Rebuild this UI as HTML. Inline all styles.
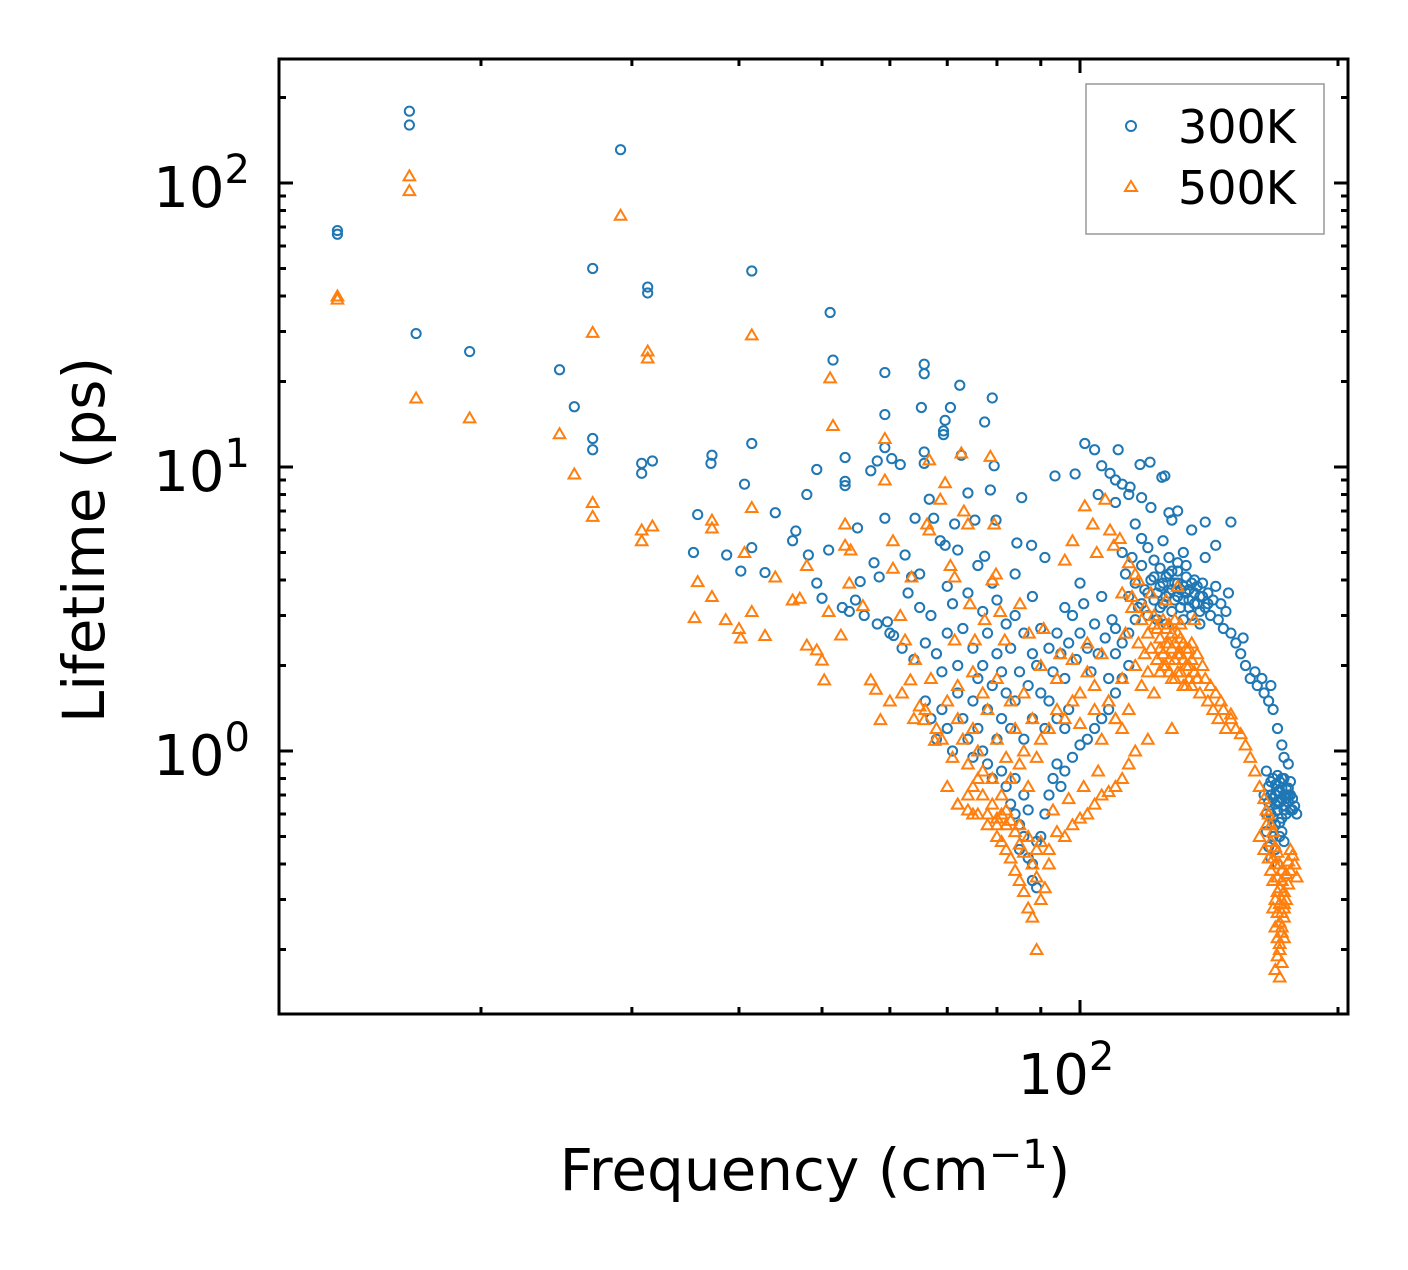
<!DOCTYPE html>
<html><head><meta charset="utf-8"><style>
body{margin:0;background:#fff}
svg text{font-family:"DejaVu Sans","Liberation Sans",sans-serif;fill:#000}
</style></head><body>
<svg id="chart" width="1408" height="1265" viewBox="0 0 1408 1265" xmlns="http://www.w3.org/2000/svg">
<rect x="0" y="0" width="1408" height="1265" fill="#fff"/>
<g id="marks"></g>
<g id="ticks"></g>
<rect x="279" y="59" width="1069" height="955" fill="none" stroke="#000" stroke-width="3"/>
<text x="250" y="207" font-size="56" text-anchor="end">10<tspan dy="-24" font-size="40">2</tspan></text>
<text x="250" y="491" font-size="56" text-anchor="end">10<tspan dy="-24" font-size="40">1</tspan></text>
<text x="250" y="775" font-size="56" text-anchor="end">10<tspan dy="-24" font-size="40">0</tspan></text>
<text x="1066" y="1094" font-size="56" text-anchor="middle">10<tspan dy="-24" font-size="40">2</tspan></text>
<text x="815" y="1190" font-size="58" text-anchor="middle">Frequency (cm<tspan dy="-22" font-size="40">−1</tspan><tspan dy="22">)</tspan></text>
<text transform="translate(104,540) rotate(-90)" font-size="58" text-anchor="middle">Lifetime (ps)</text>
<g>
<rect x="1086" y="84" width="238" height="150" fill="#fff" stroke="#999" stroke-width="1.5"/>
<circle cx="1131" cy="126" r="5" fill="none" stroke="#1f77b4" stroke-width="2"/>
<text x="1178" y="143" font-size="46">300K</text>
<path d="M1131,181 L1137,191 L1125,191 Z" fill="none" stroke="#ff7f0e" stroke-width="2"/>
<text x="1178" y="204" font-size="46">500K</text>
</g>
</svg>
<script>
// [frequency (cm^-1), lifetime (ps)] pairs, grouped by region
const blueSparse = [[13.6,68],[13.6,66],[16.5,179],[16.5,160],[16.8,29.5],[19.4,25.5],[24.7,22],[25.7,16.3],[27,50],[27,12.6],
[27,11.5],[29.1,131],[31.3,43],[31.3,41],[30.8,9.5],[30.8,10.3],[31.7,10.5],[41.4,49],[51.1,35],[51.5,23.8],
[35.8,6.8],[37.2,11],[37.1,10.3],[41.4,12.1],[40.6,8.7],[41.4,5.2],[35.4,5.0],[38.7,4.9],[40.2,4.3],[42.9,4.25],
[44.1,6.9],[46.2,5.5],[46.6,5.95],[48,8.0],[49.3,9.8],[48.2,4.9],[49.3,3.9],[50,3.45],[50.9,5.1],[53.2,10.8],
[53.2,8.9],[53.2,8.6],[55,6.1],[55.4,3.95],[54.7,3.4],[52.8,3.2],[53.8,3.1],[57.5,4.6],[58.3,4.1],[59.2,21.5],
[59.2,15.3],[59.2,11.7],[59.2,6.6],[60.3,10.7],[61.7,10.2],[58,10.5],[57,9.7],[59.6,2.85],[60.6,2.55],[62.5,4.9],
[63.6,4.1],[64.2,6.6],[65,4.2],[65.3,16.2],[65.8,23],[65.8,21.3],[65.8,11.3],[65.8,10.3],[66.7,7.7],[67.5,6.6],
[68.7,5.5],[69.6,5.3],[69.3,13.4],[69.3,13],[69.6,14.6],[70.6,16.2],[72.4,19.4],[72.7,11],[74,8.1],[71.4,6.3],
[72,5.1],[75.4,6.5],[77.4,14.4],[79,17.5],[79.4,10.1],[79.8,6.5],[78.6,8.3],[77.4,4.85],[84.4,5.4],[85.5,7.8],
[87.8,5.3],[91,4.8],[93.5,9.3],[98.7,9.45],[101.3,12.1],[104,11.5],[106,10.1],[110.8,11.5],[108.4,9.5],[110,9.0],
[114.4,8.5],[117.5,10.2],[120.7,10.4],[124.6,9.2],[125.6,9.3],[140,6.4],[127,6.9],[105,8.0],[112,8.7],[118,7.8]];
const blueCloud = [[56,3.0],[58,2.8],[60,2.6],[62,2.3],[64,2.1],[66,2.4],[67,3.0],[68,2.2],[69,1.9],[70,2.6],
[71,3.3],[72,2.0],[72,1.6],[73,2.7],[74,3.6],[75,2.3],[75,1.5],[76,1.8],[77,3.1],[77,2.0],
[78,1.4],[78,2.6],[79,1.7],[80,3.4],[80,2.2],[81,1.3],[81,1.9],[82,2.8],[82,1.6],[83,1.2],
[83,2.3],[84,3.0],[84,1.5],[85,1.9],[86,1.1],[86,2.6],[87,1.7],[88,2.2],[88,1.3],[89,2.0],
[90,1.6],[90,2.7],[91,1.2],[92,2.3],[93,1.9],[94,2.6],[95,2.2],[96,1.8],[97,2.4],[98,3.0],
[99,2.1],[100,2.6],[101,3.3],[102,2.3],[103,1.9],[104,2.8],[105,2.2],[106,3.5],[107,2.5],[108,1.8],
[109,2.9],[110,2.2],[66,1.5],[67,1.3],[68,1.1],[69,1.4],[70,1.2],[71,1.0],[73,1.3],[74,1.1],
[75,0.95],[76,1.2],[77,1.0],[78,0.9],[79,0.8],[80,1.1],[81,0.85],[92,1.5],[94,1.3],[96,1.2],
[97,1.4],[63,3.6],[65,3.2],[70,3.8],[76,4.5],[79,3.9],[84,4.2],[88,3.5],[96,3.2],[100,3.9]];
const blueValley = [[82,0.75],[83,0.65],[84,0.6],[85,0.55],[85,0.45],[86,0.5],[87,0.42],[88,0.35],[89,0.33],[88,0.4],
[90,0.5],[91,0.6],[92,0.7],[93,0.8],[95,0.75],[96,0.85],[98,0.95],[100,1.05],[102,1.1],[104,1.2],
[106,1.3],[108,1.4],[110,1.6],[112,1.8],[114,2.0],[84,0.8],[86,0.7],[87,0.62],[89,0.48],[94,0.9]];
const blueCluster = [[112,5.0],[113,4.2],[114,3.5],[115,4.8],[116,3.9],[117,3.2],[118,4.5],[119,3.7],[120,5.2],[120,3.0],
[121,4.0],[122,3.4],[122,4.7],[123,2.9],[124,3.8],[124,4.4],[125,3.3],[126,4.1],[126,2.8],[127,3.6],
[128,4.3],[128,3.1],[129,3.9],[130,3.5],[130,4.6],[131,3.2],[132,3.8],[132,2.9],[133,4.1],[134,3.4],
[134,3.7],[135,3.0],[136,3.6],[136,4.0],[137,3.3],[138,3.5],[138,2.8],[139,3.9],[140,3.2],[141,3.6],
[142,3.0],[143,3.4],[144,3.8],[145,2.9],[146,3.3],[147,2.7],[148,3.1],[149,3.6],[150,2.6],[118,5.6],
[125,5.5],[132,5.0],[140,4.8],[116,6.3],[128,6.5],[110,7.5],[114,8.0],[121,7.2],[130,7.0],[135,6.0],
[144,5.3],[150,6.4],[123,3.6],[125,3.9],[127,4.2],[129,3.4],[131,3.7],[133,3.6],[135,3.9],[137,3.8],
[139,3.5],[141,3.3],[124,3.2],[126,3.5],[128,3.7],[130,3.9],[132,3.4],[134,3.2],[136,3.3],[138,3.1],
[127,4.8],[130,4.3],[133,4.5],[122,4.1],[120,3.6],[118,3.3],[116,2.9],[114,2.6],[112,2.4],[110,2.7]];
const blueTail = [[152,2.4],[154,2.2],[155,2.5],[156,2.0],[158,1.8],[160,1.9],[161,1.7],[163,1.8],[164,1.6],[166,1.5],
[167,1.7],[168,1.4],[170,1.2],[172,1.05],[173,0.95],[165,0.85],[166,0.75],[167,0.7],[167,0.6],[168,0.8],
[169,0.65],[169,0.55],[170,0.72],[170,0.62],[171,0.5],[171,0.78],[172,0.68],[172,0.58],[173,0.7],[173,0.64],
[174,0.74],[174,0.6],[175,0.66],[175,0.9],[176,0.7],[176,0.62],[177,0.68],[178,0.64],[179,0.6],[168,0.68],
[169,0.76],[170,0.82],[171,0.66],[172,0.74],[173,0.8],[174,0.68],[175,0.74],[176,0.78],[166,0.66],[167,0.78],
[168,0.58],[169,0.7],[170,0.66],[171,0.72],[172,0.8],[173,0.62],[174,0.7],[175,0.7],[165,0.52],[166,0.46],
[167,0.42],[168,0.5],[169,0.45],[170,0.4],[171,0.56],[172,0.52],[173,0.48],[165,0.6],[164,0.7],[177,0.62]];
const orangeSparse = [[13.6,40],[13.6,39],[16.5,106],[16.5,94],[16.8,17.5],[19.4,14.9],[24.7,13.1],[25.7,9.45],[27,29.8],[27,7.5],
[27,6.7],[29.1,77],[31.3,25.6],[31.3,24.2],[30.8,6.0],[30.8,5.5],[31.7,6.2],[41.4,29.2],[41.4,7.2],[51.1,20.6],
[51.5,14.0],[35.8,3.95],[37.2,3.5],[35.5,2.95],[37.2,6.5],[37.2,6.1],[40.6,5.0],[40,2.7],[38.6,2.9],[40.2,2.5],
[42.9,2.55],[41.4,3.1],[44.1,4.1],[46.2,3.4],[47.1,3.45],[48,4.5],[48,2.36],[49.3,2.27],[50,2.09],[50.3,1.78],
[50.9,3.1],[52.6,2.56],[53.2,6.3],[53.2,5.3],[54,5.1],[53.8,3.9],[55.8,3.25],[57,1.78],[57.8,1.65],[58.5,1.29],
[59.2,9.0],[59.2,12.6],[60.5,5.5],[60.5,4.4],[61.7,3.0],[62.5,2.46],[63.4,1.78],[64.2,2.1],[63.6,4.1],[65,1.44],
[65.8,1.29],[66.3,6.3],[66.7,6.0],[66.7,10.6],[68.7,7.7],[67.7,1.09],[69.6,8.8],[70.6,4.5],[71.4,4.1],[71.4,2.46],
[72.7,11.2],[73.2,7.0],[74,6.3],[74.4,3.3],[75.4,2.46],[77.4,2.9],[78.6,10.9],[79,4.0],[79.4,6.3],[79.8,4.2],
[80.7,3.1],[81.7,2.46],[85.1,3.3],[87.2,2.6],[90.7,2.7],[94.8,2.2],[101.3,7.3],[103.5,6.3],[104.6,5.0],[107,7.7],
[108.4,6.0],[109.5,5.3],[111.3,5.6],[114,4.6],[98,5.5],[96,4.7],[115,3.5],[117,4.0],[119,3.2],[121,3.6]];
const orangeCloud = [[60,1.5],[62,1.6],[64,1.3],[66,1.4],[67,1.8],[68,1.2],[69,1.1],[70,1.5],[71,0.95],[72,1.3],
[73,1.1],[74,0.9],[75,1.2],[76,1.0],[77,0.85],[78,1.4],[79,0.8],[80,1.1],[81,0.7],[82,0.95],
[83,0.8],[84,1.2],[85,0.9],[86,1.0],[87,0.75],[88,1.3],[89,0.95],[90,1.1],[92,1.2],[94,1.4],
[96,1.3],[98,1.5],[100,1.6],[102,1.9],[104,1.7],[70,0.75],[72,0.65],[74,0.7],[75,0.6],[76,0.8],
[78,0.6],[80,0.55],[82,0.62],[72,1.7],[75,1.9],[77,1.6],[80,1.8],[83,1.5],[86,1.6],[90,2.0],
[94,1.8],[98,2.1],[102,2.4],[106,2.2],[108,1.5],[110,1.3],[112,1.2],[106,1.1],[104,1.4],[100,1.25]];
const orangeValley = [[72,0.65],[74,0.62],[75,0.75],[76,0.6],[77,0.7],[78,0.55],[79,0.65],[80,0.5],[80,0.58],[81,0.48],
[82,0.55],[82,0.45],[83,0.42],[84,0.52],[84,0.38],[85,0.47],[85,0.35],[86,0.44],[86,0.32],[87,0.28],
[88,0.4],[88,0.26],[89,0.36],[89,0.2],[90,0.3],[91,0.33],[92,0.4],[90,0.48],[92,0.45],[94,0.52],
[96,0.5],[98,0.55],[100,0.58],[102,0.6],[104,0.65],[106,0.7],[108,0.72],[110,0.75],[112,0.8],[114,0.9],
[116,1.0],[93,0.62],[97,0.68],[101,0.75],[105,0.85],[81,0.6],[83,0.57],[85,0.55],[87,0.5],[89,0.45]];
const orangeCluster = [[108,1.5],[110,1.3],[112,1.8],[113,2.6],[114,1.4],[115,3.2],[116,2.0],[117,2.4],[118,1.7],[118,2.9],
[119,2.2],[120,1.9],[120,2.6],[121,2.3],[122,1.6],[122,2.8],[123,2.1],[124,2.5],[124,1.9],[125,2.2],
[126,2.7],[126,2.0],[127,2.4],[128,1.8],[128,2.3],[129,2.1],[130,2.6],[130,1.9],[131,2.2],[132,2.4],
[132,1.7],[133,2.0],[134,2.3],[134,1.8],[135,2.1],[136,1.9],[137,2.2],[138,1.6],[139,2.0],[140,1.8],
[141,1.5],[142,1.7],[143,1.4],[144,1.6],[145,1.3],[146,1.5],[147,1.4],[148,1.2],[150,1.35],[112,3.6],
[116,4.2],[122,3.0],[126,3.4],[130,3.8],[136,2.9],[120,1.1],[128,1.2],[124,2.3],[126,2.4],[127,2.1],
[128,2.6],[129,2.4],[130,2.2],[131,2.5],[132,2.1],[133,2.3],[134,2.0],[135,2.4],[125,2.0],[127,1.9],
[129,1.8],[131,1.9],[133,1.7],[135,1.7],[137,1.8],[123,2.7],[125,2.9],[127,2.8],[129,2.9],[131,2.8]];
const orangeTail = [[150,1.3],[152,1.2],[154,1.15],[156,1.05],[158,0.95],[160,0.85],[162,0.75],[164,0.68],[165,0.62],[167,0.55],
[162,0.5],[164,0.45],[165,0.55],[166,0.6],[167,0.48],[168,0.52],[168,0.42],[169,0.46],[169,0.4],[170,0.44],
[170,0.36],[171,0.4],[171,0.33],[172,0.38],[172,0.3],[172,0.35],[173,0.32],[173,0.28],[174,0.37],[174,0.3],
[175,0.34],[175,0.41],[176,0.45],[176,0.38],[177,0.43],[178,0.4],[179,0.36],[170,0.27],[171,0.25],[172,0.23],
[173,0.29],[170,0.22],[171,0.2],[172,0.24],[170,0.19],[171,0.21],[172,0.18],[173,0.26],[169,0.17],[171,0.16],
[173,0.22],[169,0.24],[170,0.32],[171,0.29],[172,0.27],[168,0.35],[169,0.3],[168,0.28],[167,0.38],[166,0.42]];
const yMajorTicks = [1,10,100];
const xMajorTicks = [100];

const NS = 'http://www.w3.org/2000/svg';
const X0 = 279, X1 = 1348, Y0 = 59, Y1 = 1014;
const xLogMin = 2 - (1080 - X0) / 857, xLogMax = 2 + (X1 - 1080) / 857;
const yLogMax = 2 + (183 - Y0) / 284, yLogMin = -(Y1 - 751) / 284;
function xScale(v) { return X0 + (Math.log10(v) - xLogMin) / (xLogMax - xLogMin) * (X1 - X0); }
function yScale(v) { return Y1 - (Math.log10(v) - yLogMin) / (yLogMax - yLogMin) * (Y1 - Y0); }

const series300 = [].concat(blueSparse, blueCloud, blueValley, blueCluster, blueTail);
const series500 = [].concat(orangeSparse, orangeCloud, orangeValley, orangeCluster, orangeTail);

const marks = document.getElementById('marks');
const gB = document.createElementNS(NS, 'g');


marks.appendChild(gB);
series300.forEach(function (d) {
  const c = document.createElementNS(NS, 'circle');
  c.setAttribute('cx', xScale(d[0]));
  c.setAttribute('cy', yScale(d[1]));
  c.setAttribute('r', 4.6);
  c.setAttribute('fill', 'none');
  c.setAttribute('stroke', '#1f77b4');
  c.setAttribute('stroke-width', 2);
  
  
  gB.appendChild(c);
});
const gO = document.createElementNS(NS, 'g');


marks.appendChild(gO);
series500.forEach(function (d) {
  const x = xScale(d[0]), y = yScale(d[1]);
  const p = document.createElementNS(NS, 'path');
  p.setAttribute('d', `M${x},${y-5.5} L${x+5.8},${y+4.5} L${x-5.8},${y+4.5} Z`);
  p.setAttribute('fill', 'none');
  p.setAttribute('stroke', '#ff7f0e');
  p.setAttribute('stroke-width', 2);
  
  
  gO.appendChild(p);
});

const ticks = document.getElementById('ticks');
function line(x1, y1, x2, y2, name) {
  const l = document.createElementNS(NS, 'line');
  l.setAttribute('x1', x1); l.setAttribute('y1', y1);
  l.setAttribute('x2', x2); l.setAttribute('y2', y2);
  l.setAttribute('stroke', '#000'); l.setAttribute('stroke-width', 3);
  
  
  ticks.appendChild(l);
}
for (let d = -1; d <= 2; d++) {
  for (let m = 1; m <= 9; m++) {
    const v = m * Math.pow(10, d);
    const lv = Math.log10(v);
    if (lv < yLogMin || lv > yLogMax) continue;
    const y = yScale(v);
    const len = yMajorTicks.includes(v) ? 14 : 7;
    line(X0, y, X0 + len, y, 'y-tick');
    line(X1, y, X1 - len, y, 'y-tick-right');
  }
}
for (let d = 1; d <= 2; d++) {
  for (let m = 1; m <= 9; m++) {
    const v = m * Math.pow(10, d);
    const lv = Math.log10(v);
    if (lv < xLogMin || lv > xLogMax) continue;
    const x = xScale(v);
    const len = xMajorTicks.includes(v) ? 14 : 7;
    line(x, Y1, x, Y1 - len, 'x-tick');
    line(x, Y0, x, Y0 + len, 'x-tick-top');
  }
}
</script>
</body></html>
